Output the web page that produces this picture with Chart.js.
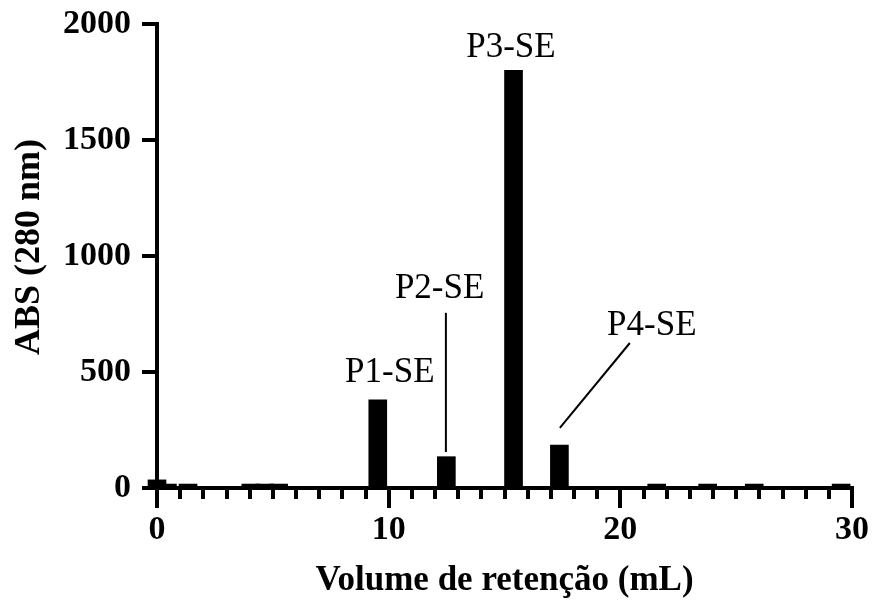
<!DOCTYPE html>
<html>
<head>
<meta charset="utf-8">
<script src="https://cdn.jsdelivr.net/npm/chart.js@4/dist/chart.umd.min.js"></script>
<style>
  body { margin: 0; background: #fff; }
  canvas { display: block; }
</style>
</head>
<body>
<canvas id="absChart" width="876" height="604"></canvas>
<script>
// volumes (mL) and absorbance
const volumes = [0, 0.45, 1.34, 4.05, 4.65, 5.25, 9.53, 12.49, 15.39, 17.37, 21.57, 23.77, 25.78, 29.53];
const absValues = [35, 17, 17, 17, 17, 17, 380, 135, 1800, 185, 17, 17, 17, 17];
const xTicks = [0, 10, 20, 30];
const yTicks = [0, 500, 1000, 1500, 2000];
const peakNames = ['P1-SE', 'P2-SE', 'P3-SE', 'P4-SE'];

const serif = '"Liberation Serif", "Times New Roman", serif';

// label spots in data units, lines go from label to its bar
const peakNotes = [
  { text: peakNames[0], x: 10.05, y: 455, line: null },
  { text: peakNames[1], x: 12.2, y: 820, line: [12.47, 755, 12.47, 155] },
  { text: peakNames[2], x: 15.28, y: 1858, line: null },
  { text: peakNames[3], x: 21.36, y: 660, line: [20.41, 625, 17.39, 259] }
];

const minorTicks = {
  id: 'minorTicks',
  afterDraw(chart) {
    const ctx = chart.ctx;
    const xs = chart.scales.x;
    const base = chart.scales.y.getPixelForValue(0);
    ctx.save();
    ctx.strokeStyle = '#000';
    ctx.lineWidth = 4;
    for (let v = 1; v < 30; v++) {
      if (v % 10 === 0) continue;
      const px = Math.round(xs.getPixelForValue(v));
      ctx.beginPath();
      ctx.moveTo(px, base);
      ctx.lineTo(px, base + 11);
      ctx.stroke();
    }
    ctx.restore();
  }
};

const peakLabels = {
  id: 'peakLabels',
  afterDraw(chart) {
    const ctx = chart.ctx;
    const xs = chart.scales.x, ys = chart.scales.y;
    ctx.save();
    ctx.fillStyle = '#000';
    ctx.strokeStyle = '#000';
    ctx.lineWidth = 2;
    ctx.font = '35px ' + serif;
    ctx.textAlign = 'center';
    ctx.textBaseline = 'alphabetic';
    peakNotes.forEach(n => {
      ctx.fillText(n.text, xs.getPixelForValue(n.x), ys.getPixelForValue(n.y));
      if (n.line) {
        ctx.beginPath();
        ctx.moveTo(xs.getPixelForValue(n.line[0]), ys.getPixelForValue(n.line[1]));
        ctx.lineTo(xs.getPixelForValue(n.line[2]), ys.getPixelForValue(n.line[3]));
        ctx.stroke();
      }
    });
    ctx.restore();
  }
};

const points = volumes.map((v, i) => ({ x: v, y: absValues[i] }));

var ctx = document.getElementById('absChart').getContext('2d');
var absChart = new Chart(ctx, {
  type: 'bar',
  data: {
    datasets: [{
      data: points,
      backgroundColor: '#000',
      borderWidth: 0,
      barThickness: 18,
      clip: false
    }]
  },
  options: {
    responsive: false,
    animation: false,
    layout: { padding: { top: 24, right: 24, left: 0, bottom: 0 } },
    plugins: { legend: { display: false }, tooltip: { enabled: false } },
    scales: {
      x: {
        type: 'linear',
        min: 0,
        max: 30,
        offset: false,
        afterFit: s => { s.height = 116; s.paddingLeft = 0; s.paddingRight = 0; },
        afterBuildTicks: s => { s.ticks = xTicks.map(v => ({ value: v })); },
        border: { display: true, color: '#000', width: 4 },
        grid: { offset: false, drawOnChartArea: false, color: '#000', tickLength: 20, lineWidth: 4 },
        ticks: { color: '#000', padding: 2, maxRotation: 0, font: { family: serif, size: 34, weight: 'bold' } },
        title: {
          display: true,
          text: 'Volume de retenção (mL)',
          color: '#000',
          font: { family: serif, size: 35, weight: 'bold', lineHeight: 1 },
          padding: { bottom: 6 }
        }
      },
      y: {
        min: 0,
        max: 2000,
        afterFit: s => { s.width = 157; s.paddingTop = 0; s.paddingBottom = 0; },
        afterBuildTicks: s => { s.ticks = yTicks.map(v => ({ value: v })); },
        border: { display: true, color: '#000', width: 4 },
        grid: { drawOnChartArea: false, color: '#000', tickLength: 15, lineWidth: 4 },
        ticks: { color: '#000', padding: 11, callback: v => String(v), font: { family: serif, size: 34, weight: 'bold' } },
        title: {
          display: true,
          // leading spaces lift the rotated title a little above centre
          text: '  ABS (280 nm)',
          color: '#000',
          font: { family: serif, size: 36, weight: 'bold', lineHeight: 1 },
          padding: { top: 12 }
        }
      }
    }
  },
  plugins: [minorTicks, peakLabels]
});
</script>
</body>
</html>
